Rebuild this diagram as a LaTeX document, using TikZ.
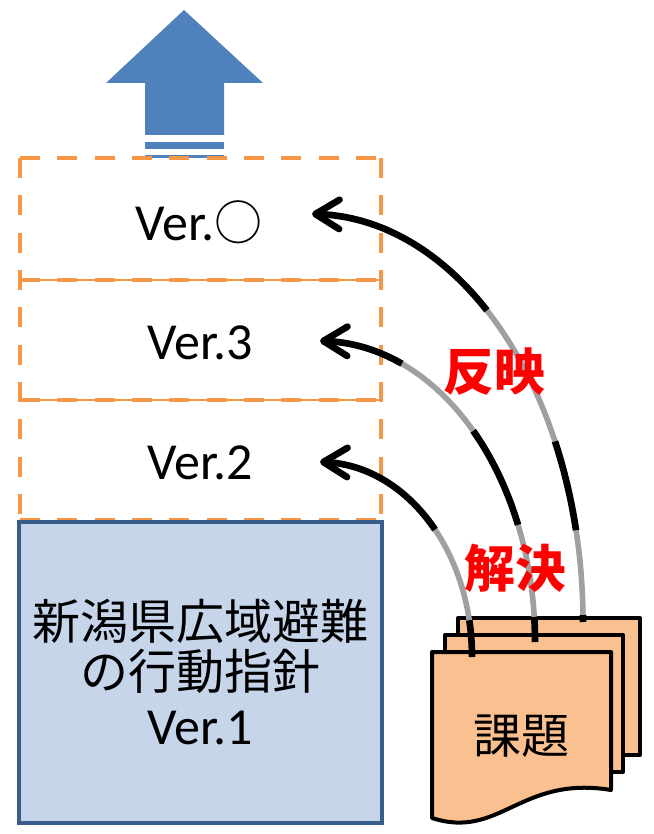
\documentclass[tikz,border=0pt]{standalone}
\usepackage{fontspec}
\setmainfont{Carlito}
\newfontfamily\jp{Noto Sans CJK JP}
\usetikzlibrary{arrows.meta}
\definecolor{arrowblue}{HTML}{4F81BD}
\definecolor{dashorange}{HTML}{F79646}
\definecolor{boxfill}{HTML}{C6D5EA}
\definecolor{boxline}{HTML}{385D8A}
\definecolor{docfill}{HTML}{FAC090}
\definecolor{arcgray}{HTML}{A0A0A0}
\newcommand\eseg[7]{\draw[#7] plot[domain=#5:#6,samples=40] ({#1+#3*cos(\x)},{#2-#4*sin(\x)});}
\begin{document}
\begin{tikzpicture}[x=0.75pt,y=-0.75pt,
  verbox/.style={draw=dashorange,line width=3.2pt,dash pattern=on 15pt off 13pt},
  divline/.style={draw=dashorange,line width=1.5pt},
  vertext/.style={font=\fontsize{39}{44}\selectfont},
  doc/.style={draw=black,fill=docfill,line width=3pt,line join=round},
  blk/.style={draw=black,line width=5pt},
  gry/.style={draw=arcgray,line width=4.2pt},
  tipped/.style={blk,-{Straight Barb[length=18pt,width=22pt,round]}},
  redlab/.style={text=red,font=\jp\bfseries\fontsize{38}{40}\selectfont}]
\useasboundingbox (0,0) rectangle (653,834);

% blue up arrow
\fill[arrowblue] (184,10) -- (263,83) -- (224,83) -- (224,135) -- (145,135) -- (145,83) -- (106,83) -- cycle;
\fill[arrowblue] (145,142) rectangle (224,149);
\fill[arrowblue] (145,155) rectangle (224,158);

% version boxes
\draw[divline] (20,280) -- (381,280);
\draw[divline] (20,400) -- (381,400);
\draw[verbox] (20,158) -- (381,158);
\draw[verbox] (20,158) -- (20,520);
\draw[verbox] (381,158) -- (381,520);
\draw[verbox] (20,280) -- (381,280);
\draw[verbox] (20,400) -- (381,400);
\draw[verbox] (20,520) -- (381,520);
\node[vertext] (v0) at (199,222) {Ver.{\jp\fontsize{36}{40}\selectfont ○}};
\node[vertext] (v3) at (200,343) {Ver.3};
\node[vertext] (v2) at (200,463) {Ver.2};

% base box
\draw[draw=boxline,fill=boxfill,line width=2.6pt] (19,522) rectangle (382,823);
\node[align=center,font=\fontsize{36}{37.5}\selectfont] (v1) at (200,672)
  {{\jp 新潟県広域避難}\\{\jp の行動指針}\\[4pt]{\fontsize{39}{40}\selectfont Ver.1}};

% documents
\draw[doc] (458,618) rectangle (640,755);
\draw[doc] (445,635) rectangle (623,772);
\draw[doc] (432,652) -- (611,652) -- (611,790) .. controls (520,775) and (500,840) .. (432,818) -- cycle;
\node[font=\jp\fontsize{36}{40}\selectfont] (kadai) at (521,736) {課題};

% arc 1
\eseg{312}{622}{271}{408}{0}{1}{blk}
\eseg{312}{622}{271}{408}{1}{13}{gry}
\eseg{312}{622}{271}{408}{13}{26.3}{blk}
\eseg{312}{622}{271}{408}{26.3}{49.8}{gry}
\eseg{312}{622}{271}{408}{49.8}{90}{tipped}
% arc 2
\eseg{320}{642}{215}{301}{0}{4.8}{blk}
\eseg{320}{642}{215}{301}{4.8}{22.9}{gry}
\eseg{320}{642}{215}{301}{22.9}{44.6}{blk}
\eseg{320}{642}{215}{301}{44.6}{67.6}{gry}
\eseg{320}{642}{215}{301}{67.6}{90}{tipped}
% arc 3
\eseg{320}{657}{152}{195}{0}{10.9}{blk}
\eseg{320}{657}{152}{195}{10.9}{40.8}{gry}
\eseg{320}{657}{152}{195}{40.8}{90}{tipped}

% labels
\node[redlab] (refl) at (494,372) {反映};
\node[redlab] (sol) at (515,568) {解決};
\end{tikzpicture}
\end{document}
